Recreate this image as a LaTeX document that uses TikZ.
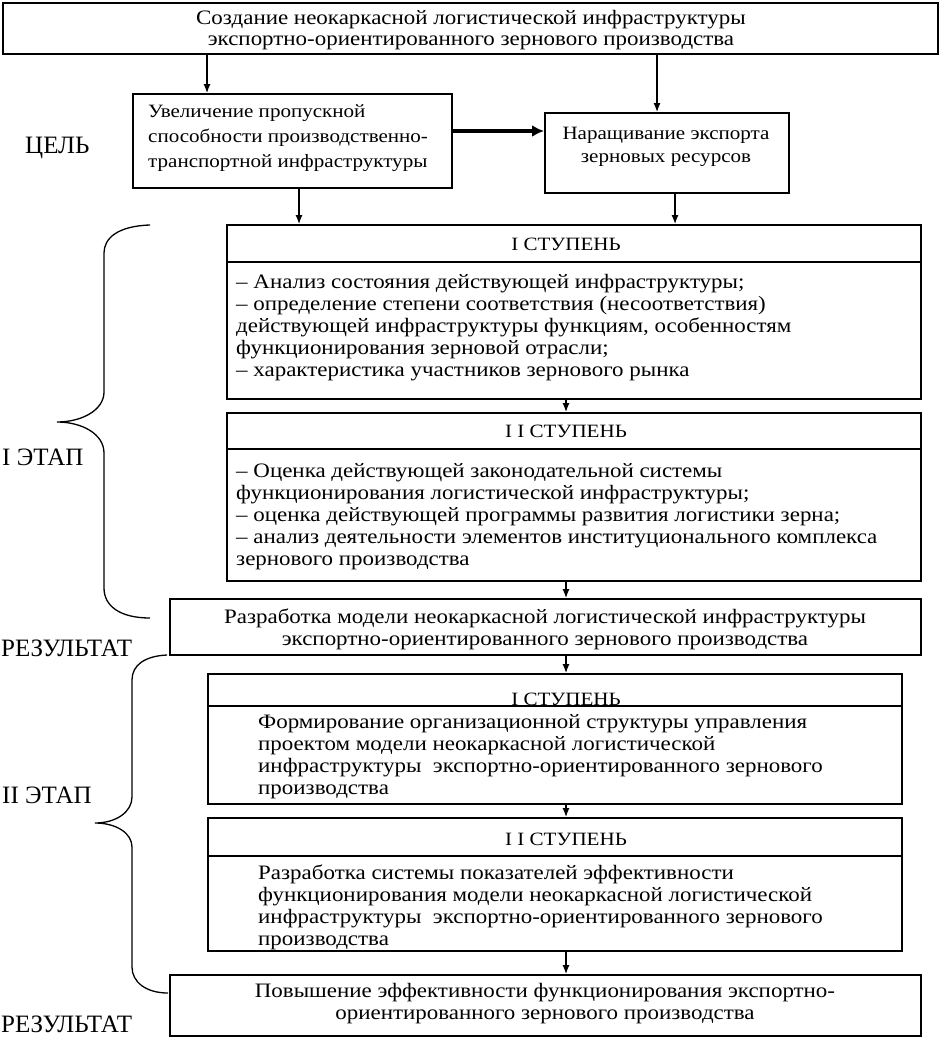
\documentclass[tikz,border=0pt]{standalone}
\usepackage{fontspec}
\setmainfont{Liberation Serif}
\newfontfamily\bodyfont{Liberation Serif}[FakeStretch=1.12]
\usetikzlibrary{arrows.meta}
\begin{document}
\begin{tikzpicture}[x=1pt,y=-1pt,
 box/.style={draw, line width=1.8pt, inner sep=0pt, anchor=north west},
 sep/.style={line width=1.8pt},
 txt/.style={inner sep=0pt, font=\bodyfont\fontsize{20.5}{22}\selectfont},
 hdr/.style={inner sep=0pt, anchor=base, font=\bodyfont\fontsize{18.8}{22}\selectfont},
 lbl/.style={inner sep=0pt, anchor=west, font=\fontsize{25}{28}\selectfont},
 arr/.style={line width=1.2pt, -{Latex[length=9pt,width=7pt]}},
 bigarr/.style={line width=3.5pt, -{Latex[length=12pt,width=12pt]}},
 brace/.style={line width=1.3pt}]
\useasboundingbox (0,0) rectangle (939,1039);

% x positions of connectors
\coordinate (xa) at (207,0);
\coordinate (xb) at (657,0);
\coordinate (xc) at (299,0);
\coordinate (xd) at (675,0);
\coordinate (xm) at (566,0);
\coordinate (yt) at (0,131);

% boxes
\node[box, minimum width=935pt, minimum height=51pt] (top) at (2,2) {};
\node[box, minimum width=319pt, minimum height=94pt] (goal1) at (132,93) {};
\node[box, minimum width=244pt, minimum height=80pt] (goal2) at (544,112) {};
\node[box, minimum width=694pt, minimum height=174pt] (s1a) at (226,224) {};
\node[box, minimum width=694pt, minimum height=168pt] (s1b) at (226,412) {};
\node[box, minimum width=751pt, minimum height=56pt] (res1) at (169,598) {};
\node[box, minimum width=694pt, minimum height=130pt] (s2a) at (207,673) {};
\node[box, minimum width=694pt, minimum height=133pt] (s2b) at (207,817) {};
\node[box, minimum width=751pt, minimum height=61pt] (res2) at (169,974) {};

% separators
\draw[sep] ([yshift=-38pt]s1a.north west) -- ([yshift=-38pt]s1a.north east);
\draw[sep] ([yshift=-37pt]s1b.north west) -- ([yshift=-37pt]s1b.north east);
\draw[sep] ([yshift=-33pt]s2a.north west) -- ([yshift=-33pt]s2a.north east);
\draw[sep] ([yshift=-39pt]s2b.north west) -- ([yshift=-39pt]s2b.north east);

% texts
\node[txt, align=center, font=\bodyfont\fontsize{20.5}{21}\selectfont] (ttop) at (471,30.5) {Создание неокаркасной логистической инфраструктуры\\экспортно-ориентированного зернового производства};
\node[txt, align=left, anchor=west, font=\bodyfont\fontsize{18.8}{25}\selectfont] (tg1) at (148,138) {Увеличение пропускной\\способности производственно-\\транспортной инфраструктуры};
\node[txt, align=center, font=\bodyfont\fontsize{18.8}{23}\selectfont] (tg2) at (666,146.5) {Наращивание экспорта\\зерновых ресурсов};

\node[hdr] (h1a) at (566,250) {I СТУПЕНЬ};
\node[txt, align=left, anchor=west] (b1a) at (236,328) {– Анализ состояния действующей инфраструктуры;\\– определение степени соответствия (несоответствия)\\действующей инфраструктуры функциям, особенностям\\функционирования зерновой отрасли;\\– характеристика участников зернового рынка};

\node[hdr] (h1b) at (566,437) {I I СТУПЕНЬ};
\node[txt, align=left, anchor=west] (b1b) at (236,517) {– Оценка действующей законодательной системы\\функционирования логистической инфраструктуры;\\– оценка действующей программы развития логистики зерна;\\– анализ деятельности элементов институционального комплекса\\зернового производства};

\node[txt, align=center] (tr1) at (545,629) {Разработка модели неокаркасной логистической инфраструктуры\\экспортно-ориентированного зернового производства};

\begin{scope}
\clip (s2a.north west) rectangle (s2a.south east);
\node[hdr] (h2a) at (566,705) {I СТУПЕНЬ};
\node[txt, align=left, anchor=west] (b2a) at (258,757) {Формирование организационной структуры управления\\проектом модели неокаркасной логистической\\инфраструктуры~ экспортно-ориентированного зернового\\производства};
\end{scope}

\begin{scope}
\clip (s2b.north west) rectangle (s2b.south east);
\node[hdr] (h2b) at (566,845) {I I СТУПЕНЬ};
\node[txt, align=left, anchor=west] (b2b) at (258,907) {Разработка системы показателей эффективности\\функционирования модели неокаркасной логистической\\инфраструктуры~ экспортно-ориентированного зернового\\производства};
\end{scope}

\node[txt, align=center] (tr2) at (545,1003.5) {Повышение эффективности функционирования экспортно-\\ориентированного зернового производства};

% side labels
\node[lbl] (lcel) at (25,148) {ЦЕЛЬ};
\node[lbl] (let1) at (2,457) {I ЭТАП};
\node[lbl] (lres1) at (1,648) {РЕЗУЛЬТАТ};
\node[lbl] (let2) at (2,795) {II ЭТАП};
\node[lbl] (lres2) at (1,1024) {РЕЗУЛЬТАТ};

% connectors
\draw[arr] (top.south -| xa) -- (goal1.north -| xa);
\draw[arr] (top.south -| xb) -- (goal2.north -| xb);
\draw[bigarr] (goal1.east |- yt) -- (goal2.west |- yt);
\draw[arr] (goal1.south -| xc) -- (s1a.north -| xc);
\draw[arr] (goal2.south -| xd) -- (s1a.north -| xd);
\draw[arr] (s1a.south -| xm) -- (s1b.north -| xm);
\draw[arr] (s1b.south -| xm) -- (res1.north -| xm);
\draw[arr] (res1.south -| xm) -- (s2a.north -| xm);
\draw[arr] (s2a.south -| xm) -- (s2b.north -| xm);
\draw[arr] (s2b.south -| xm) -- (res2.north -| xm);

% braces
\draw[brace] (150,225) .. controls (118,226) and (104,238) .. (104,253)
  -- (104,392) .. controls (104,410) and (82,422) .. (57,422)
  .. controls (82,422) and (104,434) .. (104,453)
  -- (104,588) .. controls (104,606) and (120,618) .. (150,618);
\draw[brace] (167,655) .. controls (145,656) and (132,665) .. (132,680)
  -- (132,797) .. controls (132,812) and (116,823) .. (95,823)
  .. controls (116,823) and (132,833) .. (132,847)
  -- (132,967) .. controls (132,982) and (146,993) .. (168,993);
\end{tikzpicture}
\end{document}
